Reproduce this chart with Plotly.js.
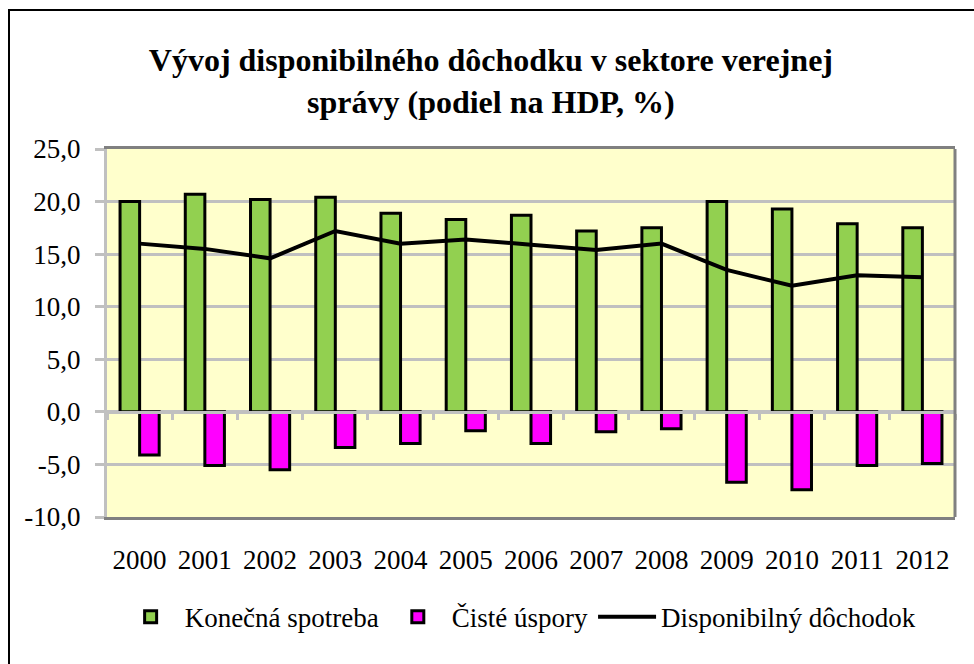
<!DOCTYPE html>
<html>
<head>
<meta charset="utf-8">
<script src="https://cdn.plot.ly/plotly-3.0.1.min.js"></script>
<style>
  html, body { margin: 0; padding: 0; background: #ffffff; overflow: hidden; }
  #frame { position: absolute; left: 8px; top: 9px; width: 1000px; height: 700px;
           border-left: 2.5px solid #000; border-top: 2.5px solid #000; background: #fff; }
  #chart { position: absolute; left: 0; top: 0; width: 974px; height: 664px; }
</style>
</head>
<body>
<div id="frame"></div>
<div id="chart"></div>
<script>
const years = ['2000','2001','2002','2003','2004','2005','2006','2007','2008','2009','2010','2011','2012'];
const konecnaSpotreba = [20.0, 20.7, 20.2, 20.4, 18.9, 18.3, 18.7, 17.2, 17.5, 20.0, 19.3, 17.9, 17.5];
const cisteUspory = [-4.1, -5.1, -5.5, -3.4, -3.0, -1.8, -3.0, -1.9, -1.6, -6.7, -7.4, -5.1, -4.9];
const disponibilnyDochodok = [16.0, 15.5, 14.6, 17.2, 16.0, 16.4, 15.9, 15.4, 16.0, 13.5, 12.0, 13.0, 12.8];
const seriesNames = ['Konečná spotreba', 'Čisté úspory', 'Disponibilný dôchodok'];
const yTickVals = [-10, -5, 0, 5, 10, 15, 20, 25];
const yTickLabels = ['-10,0', '-5,0', '0,0', '5,0', '10,0', '15,0', '20,0', '25,0'];
const titleText = 'Vývoj disponibilného dôchodku v sektore verejnej<br>správy (podiel na HDP, %)';

const serif = '"Liberation Serif", "Times New Roman", Times, "DejaVu Serif", serif';

const traces = [
  { type: 'bar', name: seriesNames[0], x: years, y: konecnaSpotreba,
    marker: { color: '#92D050', line: { color: '#000000', width: 3 } }, hoverinfo: 'x+y' },
  { type: 'bar', name: seriesNames[1], x: years, y: cisteUspory,
    marker: { color: '#FF00FF', line: { color: '#000000', width: 3 } }, hoverinfo: 'x+y' },
  { type: 'scatter', mode: 'lines', name: seriesNames[2], x: years, y: disponibilnyDochodok,
    line: { color: '#000000', width: 4 }, hoverinfo: 'x+y' },
  { type: 'scatter', mode: 'none', x: [], y: [], xaxis: 'x2', showlegend: false, hoverinfo: 'skip' }
];

const yMin = yTickVals[0], yMax = yTickVals[yTickVals.length - 1];

const layout = {
  width: 974, height: 664,
  paper_bgcolor: 'rgba(0,0,0,0)',
  plot_bgcolor: '#FFFFCC',
  margin: { l: 107, r: 19, t: 149, b: 147 },
  barmode: 'group', bargap: 0.4, bargroupgap: 0,
  font: { family: serif, size: 27, color: '#000000' },
  title: { text: titleText, font: { family: serif, size: 32, color: '#000000', weight: 'bold' },
           x: 0.504, xanchor: 'center', y: 0.893, yanchor: 'top', yref: 'container' },
  xaxis: {
    type: 'category', showgrid: false, zeroline: false,
    showline: true, linecolor: '#808080', linewidth: 3, mirror: true,
    ticks: '', ticklabelstandoff: 17,
    tickfont: { family: serif, size: 27, color: '#000000' }
  },
  xaxis2: {
    overlaying: 'x', anchor: 'free', position: (0 - yMin) / (yMax - yMin), side: 'bottom',
    range: [-0.5, years.length - 0.5], tick0: 0.5, dtick: 1,
    showgrid: false, zeroline: false, showticklabels: false,
    ticks: 'outside', ticklen: 6, tickwidth: 3, tickcolor: '#C0C0C0',
    showline: true, linecolor: '#C0C0C0', linewidth: 3
  },
  yaxis: {
    range: [yMin, yMax], tickmode: 'array', tickvals: yTickVals, ticktext: yTickLabels,
    showgrid: true, gridcolor: '#C0C0C0', gridwidth: 2.5, zeroline: false,
    showline: true, linecolor: '#C0C0C0', linewidth: 3,
    ticks: 'outside', ticklen: 9, tickwidth: 3, tickcolor: '#C0C0C0',
    ticklabelstandoff: 9,
    tickfont: { family: serif, size: 27, color: '#000000' }
  },
  shapes: [
    { type: 'line', xref: 'paper', yref: 'paper', x0: 1, x1: 1, y0: 0, y1: 1,
      line: { color: '#808080', width: 3 } }
  ],
  legend: {
    orientation: 'h', x: 0.486, xanchor: 'center', y: -0.272, yanchor: 'middle',
    font: { family: serif, size: 27, color: '#000000' },
    bgcolor: 'rgba(0,0,0,0)', traceorder: 'normal', itemwidth: 58
  },
  hovermode: 'closest'
};

Plotly.newPlot('chart', traces, layout, { displayModeBar: false, responsive: false });
</script>
</body>
</html>
